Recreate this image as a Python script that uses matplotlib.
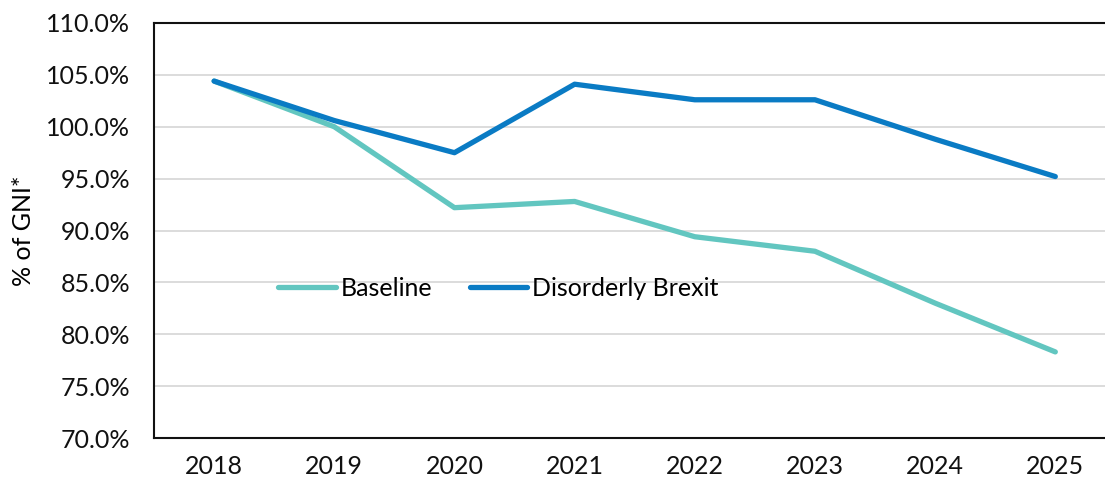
import matplotlib.pyplot as plt
from matplotlib.ticker import FuncFormatter

plt.rcParams['font.family'] = ['Lato', 'DejaVu Sans']

years = ['2018', '2019', '2020', '2021', '2022', '2023', '2024', '2025']
baseline = [104.4, 100.0, 92.2, 92.8, 89.4, 88.0, 83.0, 78.3]
disorderly = [104.4, 100.6, 97.5, 104.1, 102.6, 102.6, 98.8, 95.2]

fig = plt.figure(figsize=(11.05, 4.84), dpi=100)
ax = fig.add_axes([0.1394, 0.095, 0.87, 0.8575])

ax.plot(years, baseline, color='#62C6C0', lw=3.8, solid_capstyle='round', label='Baseline')
ax.plot(years, disorderly, color='#0A7BC4', lw=3.8, solid_capstyle='round', label='Disorderly Brexit')

ax.set_xlim(-0.5, 7.5)
ax.set_ylim(70, 110)
ax.set_yticks(range(70, 111, 5))
ax.yaxis.set_major_formatter(FuncFormatter(lambda v, p: f'{v:.1f}%'))
ax.grid(axis='y', color='#d9d9d9', lw=1.3)
ax.set_axisbelow(True)

ax.spines['right'].set_visible(False)
for s in ['left', 'bottom', 'top']:
    ax.spines[s].set_linewidth(1.5)
    ax.spines[s].set_color('#111111')

ax.tick_params(axis='both', length=0, labelsize=18, colors='#111111')
ax.tick_params(axis='y', pad=17)
ax.tick_params(axis='x', pad=12)
ax.set_ylabel('% of GNI*', fontsize=18, labelpad=8)

ax.legend(loc='center left', bbox_to_anchor=(0.129, 0.36), ncol=2, frameon=False,
          fontsize=18, handlelength=2.3, handletextpad=0.2, columnspacing=1.5,
          borderaxespad=0, borderpad=0)

fig.savefig('out.png', dpi=100)
